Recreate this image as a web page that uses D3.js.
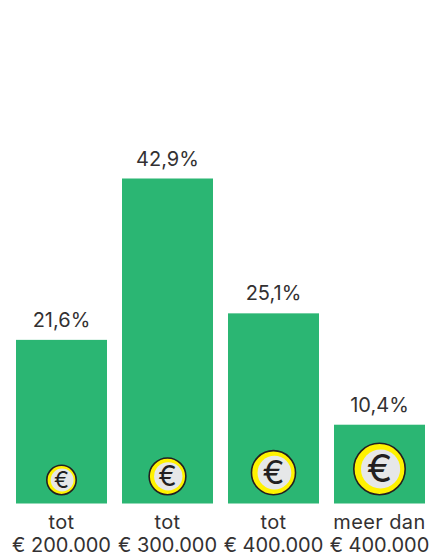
<!DOCTYPE html>
<html>
<head>
<meta charset="utf-8">
<script src="https://cdn.jsdelivr.net/npm/d3@7"></script>
<style>
html, body { margin: 0; padding: 0; background: #fff; }
svg { display: block; }
text { font-family: Inter, sans-serif; fill: #333132; }
</style>
</head>
<body>
<div id="chart"></div>
<script>
const labelTop = ["tot", "tot", "tot", "meer dan"];
const labelBottom = ["€ 200.000", "€ 300.000", "€ 400.000", "€ 400.000"];
const shares = [21.6, 42.9, 25.1, 10.4];
const shareLabels = ["21,6%", "42,9%", "25,1%", "10,4%"];
const coinLevels = [1, 2, 3, 4];

const width = 431;
const height = 553;
const baseline = 503.5;

const svg = d3.select("#chart")
    .append("svg")
    .attr("width", width)
    .attr("height", height);

const xScale = d3.scaleBand()
    .domain(d3.range(shares.length))
    .range([16, 425])
    .paddingInner(0.1415)
    .paddingOuter(0);

// 42.9% is 325px high in the picture
const yScale = d3.scaleLinear()
    .domain([0, 42.9])
    .range([baseline, 178.5]);

const coinScale = d3.scaleLinear()
    .domain([1, 4])
    .range([15.5, 26.5]);

const groups = svg.selectAll("g.bar")
    .data(shares)
    .enter()
    .append("g")
    .attr("class", "bar");

groups.append("rect")
    .attr("x", (d, i) => xScale(i))
    .attr("y", d => yScale(d))
    .attr("width", xScale.bandwidth())
    .attr("height", d => baseline - yScale(d))
    .attr("fill", "#2bb673");

// value above the bar
groups.append("text")
    .attr("x", (d, i) => xScale(i) + xScale.bandwidth() / 2)
    .attr("y", d => yScale(d) - 13)
    .attr("text-anchor", "middle")
    .attr("font-size", "20px")
    .text((d, i) => shareLabels[i]);

// labels under the bar
groups.append("text")
    .attr("x", (d, i) => xScale(i) + xScale.bandwidth() / 2)
    .attr("y", 529)
    .attr("text-anchor", "middle")
    .attr("font-size", "20px")
    .attr("letter-spacing", "0.4px")
    .text((d, i) => labelTop[i]);

groups.append("text")
    .attr("x", (d, i) => xScale(i) + xScale.bandwidth() / 2)
    .attr("y", 552)
    .attr("text-anchor", "middle")
    .attr("font-size", "20px")
    .text((d, i) => labelBottom[i]);

// coins, sitting 8px above the baseline
const coins = svg.selectAll("g.coin")
    .data(coinLevels)
    .enter()
    .append("g")
    .attr("class", "coin")
    .attr("transform", (d, i) => "translate(" + (xScale(i) + xScale.bandwidth() / 2) + "," + (baseline - 8 - coinScale(d)) + ")");

coins.append("circle")
    .attr("r", d => coinScale(d) - 0.8)
    .attr("fill", "#fff200")
    .attr("stroke", "#231f20")
    .attr("stroke-width", 1.6);

coins.append("circle")
    .attr("cx", d => coinScale(d) * 0.04)
    .attr("r", d => coinScale(d) * 0.74)
    .attr("fill", "#e6e7e8");

coins.append("text")
    .attr("y", d => coinScale(d) * 0.5)
    .attr("text-anchor", "middle")
    .attr("font-size", d => coinScale(d) * 1.45 + "px")
    .attr("font-weight", 400)
    .style("fill", "#231f20")
    .text("€");
</script>
</body>
</html>
